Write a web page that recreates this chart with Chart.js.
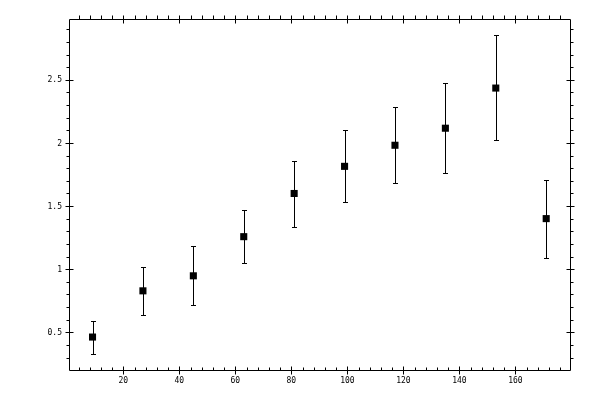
<!DOCTYPE html>
<html>
<head>
<meta charset="utf-8">
<script src="https://cdn.jsdelivr.net/npm/chart.js@4/dist/chart.umd.min.js"></script>
<style>
html,body{margin:0;padding:0;background:#fff;}
#wrap{width:600px;height:400px;}
</style>
</head>
<body>
<div id="wrap"><canvas id="c" width="600" height="400"></canvas></div>
<script>
const xValues = [9, 27, 45, 63, 81, 99, 117, 135, 153, 171];
const yValues = [0.463, 0.829, 0.948, 1.258, 1.600, 1.815, 1.982, 2.117, 2.435, 1.401];
const yLow    = [0.328, 0.638, 0.718, 1.052, 1.338, 1.529, 1.680, 1.759, 2.021, 1.091];
const yHigh   = [0.591, 1.020, 1.187, 1.470, 1.855, 2.101, 2.286, 2.475, 2.856, 1.708];

const xTicks = [20, 40, 60, 80, 100, 120, 140, 160];
const xTickLabels = ["20", "40", "60", "80", "100", "120", "140", "160"];
const yTicks = [0.5, 1, 1.5, 2, 2.5];
const yTickLabels = ["0.5", "1", "1.5", "2", "2.5"];
const xMinorStep = 4;
const yMinorStep = 0.1;
const xRange = [0.6, 179.5];
const yRange = [0.202, 2.982];

const points = xValues.map((x, i) => ({x: x, y: yValues[i]}));

function px(v) { return Math.round(v) + 0.5; }

const errorBars = {
  id: 'errorBars',
  beforeDatasetsDraw(chart) {
    const ctx = chart.ctx, xs = chart.scales.x, ys = chart.scales.y;
    ctx.save();
    ctx.strokeStyle = '#000';
    ctx.lineWidth = 1;
    ctx.beginPath();
    for (let i = 0; i < xValues.length; i++) {
      const x = px(xs.getPixelForValue(xValues[i]));
      const yl = px(ys.getPixelForValue(yLow[i]));
      const yh = px(ys.getPixelForValue(yHigh[i]));
      ctx.moveTo(x, yl); ctx.lineTo(x, yh);
      ctx.moveTo(x - 2.5, yl); ctx.lineTo(x + 2.5, yl);
      ctx.moveTo(x - 2.5, yh); ctx.lineTo(x + 2.5, yh);
    }
    ctx.stroke();
    ctx.restore();
  }
};

const frame = {
  id: 'frame',
  afterDraw(chart) {
    const ctx = chart.ctx, xs = chart.scales.x, ys = chart.scales.y;
    const a = chart.chartArea;
    const L = px(a.left), R = px(a.right), T = px(a.top), B = px(a.bottom);
    ctx.save();
    ctx.strokeStyle = '#000';
    ctx.lineWidth = 1;
    ctx.beginPath();
    ctx.rect(L, T, R - L, B - T);
    for (let v = Math.ceil(xRange[0] / xMinorStep) * xMinorStep; v <= xRange[1]; v += xMinorStep) {
      const x = px(xs.getPixelForValue(v));
      if (xTicks.includes(v)) continue;
      ctx.moveTo(x, B); ctx.lineTo(x, B - 3);
      ctx.moveTo(x, T); ctx.lineTo(x, T - 4);
    }
    xTicks.forEach(v => {
      const x = px(xs.getPixelForValue(v));
      ctx.moveTo(x, B - 4); ctx.lineTo(x, B + 4);
      ctx.moveTo(x, T - 4); ctx.lineTo(x, T + 4);
    });
    for (let k = Math.ceil(yRange[0] / yMinorStep); k * yMinorStep <= yRange[1]; k++) {
      const v = Math.round(k * yMinorStep * 10) / 10;
      if (yTicks.includes(v)) continue;
      const y = px(ys.getPixelForValue(v));
      ctx.moveTo(L, y); ctx.lineTo(L - 3, y);
      ctx.moveTo(R, y); ctx.lineTo(R + 3, y);
    }
    yTicks.forEach(v => {
      const y = px(ys.getPixelForValue(v));
      ctx.moveTo(L - 4, y); ctx.lineTo(L + 4, y);
      ctx.moveTo(R - 4, y); ctx.lineTo(R + 4, y);
    });
    ctx.stroke();

    ctx.fillStyle = '#000';
    ctx.font = '8px "DejaVu Sans Mono"';
    ctx.textAlign = 'center';
    ctx.textBaseline = 'middle';
    xTicks.forEach((v, i) => {
      ctx.fillText(xTickLabels[i], xs.getPixelForValue(v), 381);
    });
    ctx.textAlign = 'right';
    yTicks.forEach((v, i) => {
      ctx.fillText(yTickLabels[i], 62, ys.getPixelForValue(v) + 0.5);
    });
    ctx.restore();
  }
};

new Chart(document.getElementById('c'), {
  type: 'scatter',
  data: {
    datasets: [{
      data: points,
      pointStyle: 'rect',
      pointRadius: 5,
      pointHoverRadius: 5,
      backgroundColor: '#000',
      borderColor: '#000',
      borderWidth: 0,
      showLine: false
    }]
  },
  options: {
    responsive: false,
    animation: false,
    devicePixelRatio: 1,
    layout: { padding: { left: 69, right: 30, top: 19, bottom: 30 } },
    plugins: { legend: { display: false }, tooltip: { enabled: false } },
    scales: {
      x: { type: 'linear', min: xRange[0], max: xRange[1], display: false },
      y: { type: 'linear', min: yRange[0], max: yRange[1], display: false }
    }
  },
  plugins: [errorBars, frame]
});
</script>
</body>
</html>
